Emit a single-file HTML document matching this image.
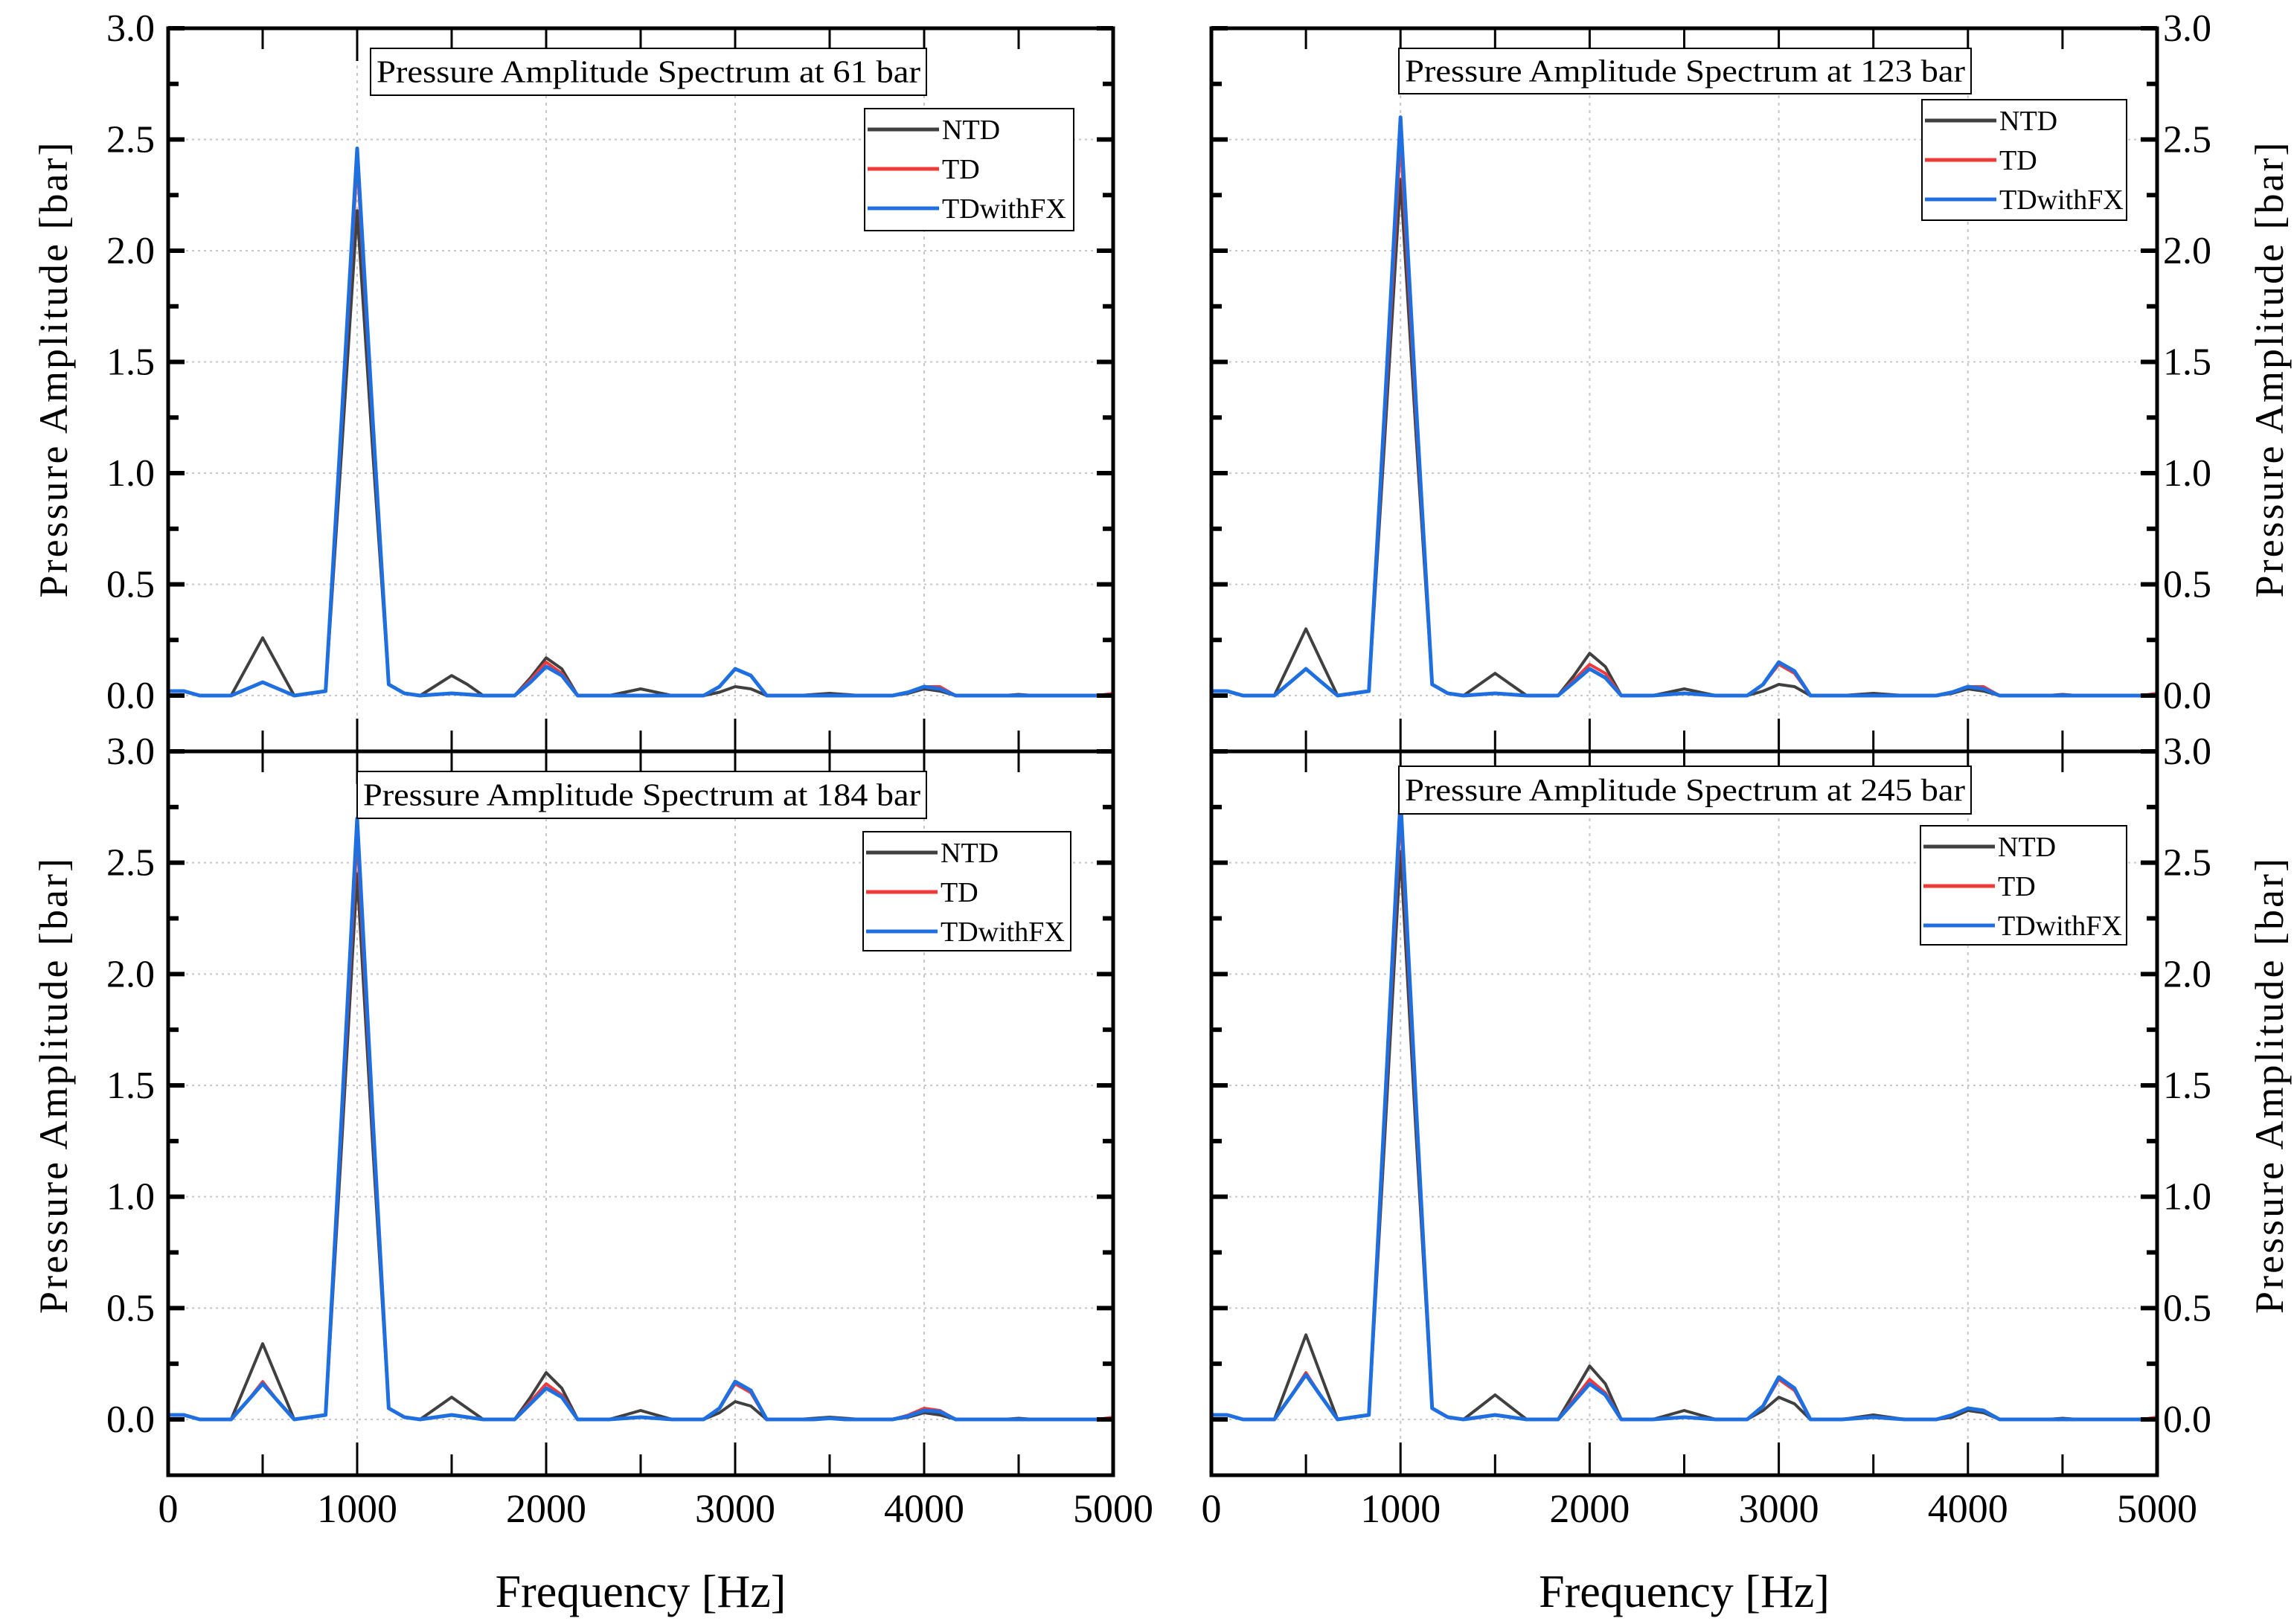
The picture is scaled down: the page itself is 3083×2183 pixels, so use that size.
<!DOCTYPE html>
<html><head><meta charset="utf-8"><style>
html,body{margin:0;padding:0;background:#fff}
svg{display:block;font-family:"Liberation Serif",serif}
</style></head><body>
<svg id="chart" width="3083" height="2183" viewBox="0 0 3083 2183" xmlns="http://www.w3.org/2000/svg"></svg>
<script>
const freqs = [0,83,167,250,333,417,500,583,667,750,833,917,1000,1083,1167,1250,1333,1417,1500,1583,1667,1750,1833,1917,2000,2083,2167,2250,2333,2417,2500,2583,2667,2750,2833,2917,3000,3083,3167,3250,3333,3417,3500,3583,3667,3750,3833,3917,4000,4083,4167,4250,4333,4417,4500,4583,4667,4750,4833,4917,5000];
const seriesNames = ["NTD","TD","TDwithFX"];
const panelTitles = ["Pressure Amplitude Spectrum at 61 bar","Pressure Amplitude Spectrum at 123 bar","Pressure Amplitude Spectrum at 184 bar","Pressure Amplitude Spectrum at 245 bar"];
const xTicks = [0,1000,2000,3000,4000,5000];
const yTicks = [0.0,0.5,1.0,1.5,2.0,2.5,3.0];
const yTickLabels = ["0.0","0.5","1.0","1.5","2.0","2.5","3.0"];
// 61 bar
const ntd61 = [.02,.02,0,0,0,.13,.26,.13,0,.01,.02,1.09,2.18,1.09,.05,.01,0,.045,.09,.05,0,0,0,.08,.17,.12,0,0,0,.015,.03,.015,0,0,0,.015,.04,.03,0,0,0,.005,.01,.005,0,0,0,.01,.03,.02,0,0,0,0,.005,0,0,0,0,0,0];
const td61 = [.02,.02,0,0,0,.03,.06,.03,0,.01,.02,1.2,2.40,1.2,.05,.01,0,.005,.01,.005,0,0,0,.07,.15,.10,0,0,0,0,0,0,0,0,0,.04,.12,.09,0,0,0,0,0,0,0,0,0,.015,.04,.04,0,0,0,0,0,0,0,0,0,0,.01];
const fx61 = [.02,.02,0,0,0,.03,.06,.03,0,.01,.02,1.23,2.46,1.23,.05,.01,0,.005,.01,.005,0,0,0,.06,.13,.09,0,0,0,0,0,0,0,0,0,.04,.12,.09,0,0,0,0,0,0,0,0,0,.015,.04,.03,0,0,0,0,0,0,0,0,0,0,0];
// 123 bar
const ntd123 = [.02,.02,0,0,0,.15,.30,.15,0,.01,.02,1.16,2.32,1.16,.05,.01,0,.05,.10,.05,0,0,0,.09,.19,.13,0,0,0,.015,.03,.015,0,0,0,.02,.05,.04,0,0,0,.005,.01,.005,0,0,0,.01,.03,.02,0,0,0,0,.005,0,0,0,0,0,0];
const td123 = [.02,.02,0,0,0,.06,.12,.06,0,.01,.02,1.25,2.50,1.25,.05,.01,0,.005,.01,.005,0,0,0,.07,.14,.10,0,0,0,.005,.01,.005,0,0,0,.05,.14,.10,0,0,0,0,0,0,0,0,0,.015,.04,.04,0,0,0,0,0,0,0,0,0,0,.01];
const fx123 = [.02,.02,0,0,0,.06,.12,.06,0,.01,.02,1.3,2.60,1.3,.05,.01,0,.005,.01,.005,0,0,0,.06,.12,.08,0,0,0,.005,.01,.005,0,0,0,.05,.15,.11,0,0,0,0,0,0,0,0,0,.015,.04,.03,0,0,0,0,0,0,0,0,0,0,0];
// 184 bar
const ntd184 = [.02,.02,0,0,0,.17,.34,.17,0,.01,.02,1.22,2.45,1.22,.05,.01,0,.05,.10,.05,0,0,0,.1,.21,.14,0,0,0,.02,.04,.02,0,0,0,.03,.08,.06,0,0,0,.005,.01,.005,0,0,0,.01,.03,.02,0,0,0,0,.005,0,0,0,0,0,0];
const td184 = [.02,.02,0,0,0,.08,.17,.08,0,.01,.02,1.31,2.62,1.31,.05,.01,0,.01,.02,.01,0,0,0,.08,.16,.11,0,0,0,.005,.01,.005,0,0,0,.05,.16,.12,0,0,0,0,.005,0,0,0,0,.02,.05,.04,0,0,0,0,0,0,0,0,0,0,.01];
const fx184 = [.02,.02,0,0,0,.08,.16,.08,0,.01,.02,1.35,2.70,1.35,.05,.01,0,.01,.02,.01,0,0,0,.07,.14,.10,0,0,0,.005,.01,.005,0,0,0,.05,.17,.13,0,0,0,0,.005,0,0,0,0,.015,.04,.035,0,0,0,0,0,0,0,0,0,0,0];
// 245 bar
const ntd245 = [.02,.02,0,0,0,.19,.38,.19,0,.01,.02,1.27,2.55,1.27,.05,.01,0,.055,.11,.055,0,0,0,.12,.24,.16,0,0,0,.02,.04,.02,0,0,0,.04,.10,.07,0,0,0,.01,.02,.01,0,0,0,.01,.04,.03,0,0,0,0,.005,0,0,0,0,0,0];
const td245 = [.02,.02,0,0,0,.1,.21,.1,0,.01,.02,1.36,2.72,1.36,.05,.01,0,.01,.02,.01,0,0,0,.09,.18,.12,0,0,0,.005,.01,.005,0,0,0,.06,.18,.13,0,0,0,.005,.01,.005,0,0,0,.02,.05,.04,0,0,0,0,0,0,0,0,0,0,.01];
const fx245 = [.02,.02,0,0,0,.1,.20,.1,0,.01,.02,1.4,2.79,1.4,.05,.01,0,.01,.02,.01,0,0,0,.08,.16,.11,0,0,0,.005,.01,.005,0,0,0,.06,.19,.14,0,0,0,.005,.01,.005,0,0,0,.02,.05,.04,0,0,0,0,0,0,0,0,0,0,0];

const panelData = [[ntd61,td61,fx61],[ntd123,td123,fx123],[ntd184,td184,fx184],[ntd245,td245,fx245]];
const colors = ["#404040","#f03a3a","#1f6fe0"];
const widths = [4,4,5];

const NS = "http://www.w3.org/2000/svg";
const svg = document.getElementById("chart");
function mk(tag, attrs, parent){const e=document.createElementNS(NS,tag);for(const k in attrs)e.setAttribute(k,attrs[k]);(parent||svg).appendChild(e);return e;}

const layouts = [
 {x0:226,x1:1496,top:38,zero:935,bot:1010,side:"left",title:[498,65,747,63],leg:[1162,146,281,164],xlab:false,tshift:-28},
 {x0:1628,x1:2899,top:38,zero:935,bot:1010,side:"right",title:[1880,65,769,61],leg:[2583,134,275,162],xlab:false,tshift:-28},
 {x0:226,x1:1496,top:1010,zero:1908,bot:1983,side:"left",title:[480,1037,765,63],leg:[1160,1118,279,160],xlab:true,tshift:-38},
 {x0:1628,x1:2899,top:1010,zero:1908,bot:1983,side:"right",title:[1880,1030,769,64],leg:[2581,1110,277,160],xlab:true,tshift:-38}
];

layouts.forEach((L,pi)=>{
  const g = mk("g",{});
  
  
  const unit = (L.zero-L.top)/3;
  const xS = f => L.x0 + (L.x1-L.x0)*f/5000;
  const yS = v => L.zero - v*unit;
  xTicks.forEach(t=>{ if(t>0&&t<5000){const l=mk("line",{x1:xS(t),x2:xS(t),y1:L.top,y2:L.bot,stroke:"#c8c8c8","stroke-width":2,"stroke-dasharray":"4 6"},g);}});
  yTicks.forEach(t=>{ if(t<3){const l=mk("line",{x1:L.x0,x2:L.x1,y1:yS(t),y2:yS(t),stroke:"#c8c8c8","stroke-width":2,"stroke-dasharray":"3 5"},g);}});
  panelData[pi].forEach((vals,si)=>{
    const pts = vals.map((v,i)=>xS(freqs[i]).toFixed(1)+","+yS(v).toFixed(1)).join(" ");
    const pl = mk("polyline",{points:pts,fill:"none",stroke:colors[si],"stroke-width":widths[si],"stroke-linejoin":"round"},g);
    
    
  });
  const fr = mk("rect",{x:L.x0,y:L.top,width:L.x1-L.x0,height:L.bot-L.top,fill:"none",stroke:"#000","stroke-width":5},g);
  
  
  for(let f=0;f<=5000;f+=500){
    const len = f%1000===0?44:28;
    if(f>0&&f<5000){
      const a=mk("line",{x1:xS(f),x2:xS(f),y1:L.bot,y2:L.bot-len,stroke:"#000","stroke-width":3},g);
      
      const b=mk("line",{x1:xS(f),x2:xS(f),y1:L.top,y2:L.top+len,stroke:"#000","stroke-width":3},g);
      
    }
  }
  for(let k=0;k<=12;k++){
    const v=k*0.25, len = k%2===0?22:14;
    const a=mk("line",{x1:L.x0,x2:L.x0+len,y1:yS(v),y2:yS(v),stroke:"#000","stroke-width":6},g);
    
    const b=mk("line",{x1:L.x1,x2:L.x1-len,y1:yS(v),y2:yS(v),stroke:"#000","stroke-width":6},g);
    
  }
  yTicks.forEach((t,i)=>{
    const right = L.side==="right";
    const tx = mk("text",{x:right?L.x1+8:L.x0-18,y:yS(t)+17,"font-size":52,"text-anchor":right?"start":"end",fill:"#000"},g);
    tx.textContent = yTickLabels[i];
    
  });
  const cx = L.side==="right"?3050:72, cy = (L.top+L.bot)/2 + L.tshift;
  const yt = mk("text",{x:cx,y:cy,"font-size":54,"text-anchor":"middle","letter-spacing":"3",transform:`rotate(-90 ${cx} ${cy})`,dy:"18",fill:"#000"},g);
  yt.textContent = "Pressure Amplitude [bar]";
  
  if(L.xlab){
    xTicks.forEach(t=>{
      const tx=mk("text",{x:xS(t),y:2046,"font-size":54,"text-anchor":"middle",fill:"#000"},g);
      tx.textContent=String(t);
      
    });
    const xt=mk("text",{x:(L.x0+L.x1)/2,y:2160,"font-size":62,"text-anchor":"middle",fill:"#000"},g);
    xt.textContent="Frequency [Hz]";
    
  }
  const [tx0,ty0,tw,th]=L.title;
  const tb=mk("rect",{x:tx0,y:ty0,width:tw,height:th,fill:"#fff",stroke:"#000","stroke-width":2},g);
  
  const tt=mk("text",{x:tx0+8,y:ty0+th/2+14,"font-size":42,textLength:tw-16,lengthAdjust:"spacingAndGlyphs",fill:"#000"},g);
  tt.textContent=panelTitles[pi];
  
  const [lx,ly,lw,lh]=L.leg;
  const lg=mk("rect",{x:lx,y:ly,width:lw,height:lh,fill:"#fff",stroke:"#000","stroke-width":2},g);
  
  seriesNames.forEach((n,si)=>{
    const ry = ly+28+si*53;
    const ln=mk("line",{x1:lx+4,x2:lx+100,y1:ry,y2:ry,stroke:colors[si],"stroke-width":5},g);
    
    const lt=mk("text",{x:lx+104,y:ry+13,"font-size":38,fill:"#000"},g);
    lt.textContent=n;
    
  });
});
</script>
</body></html>
